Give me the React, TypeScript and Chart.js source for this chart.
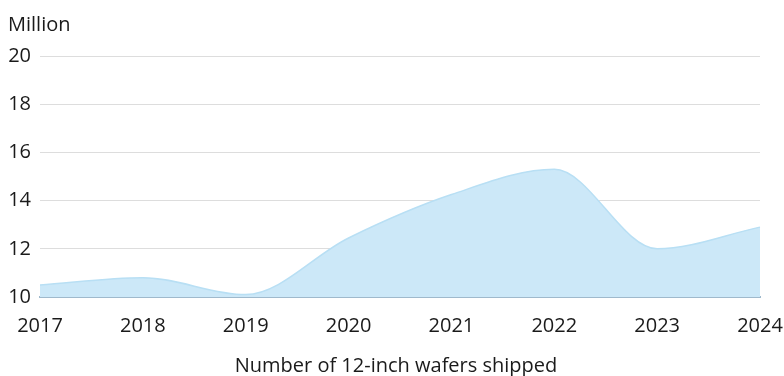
import React, { useEffect, useRef } from "react";
import { Chart, registerables } from "chart.js";

Chart.register(...registerables);

const years = ["2017", "2018", "2019", "2020", "2021", "2022", "2023", "2024"];
const wafers = [10.5, 10.8, 10.1, 12.45, 14.25, 15.3, 12.0, 12.9];
const yTicks = [10, 12, 14, 16, 18, 20];

const FONT = "'Open Sans', 'Noto Sans', sans-serif";
const TEXT = "#1a1a1a";

export default function App() {
  const canvasRef = useRef<HTMLCanvasElement | null>(null);

  useEffect(() => {
    document.body.style.margin = "0";
    const ctx = canvasRef.current;
    if (!ctx) return;
    const chart = new Chart(ctx, {
      type: "line",
      data: {
        labels: years,
        datasets: [
          {
            data: wafers,
            borderColor: "#b8dff4",
            borderWidth: 1.5,
            backgroundColor: "#cce8f8",
            fill: "start",
            cubicInterpolationMode: "monotone",
            pointRadius: 0,
          },
        ],
      },
      options: {
        animation: false,
        responsive: false,
        maintainAspectRatio: false,
        layout: { padding: { left: 8, right: 0, top: 13, bottom: -2 } },
        plugins: {
          legend: { display: false },
          tooltip: { enabled: false },
          title: {
            display: true,
            text: "Million",
            align: "start",
            color: TEXT,
            font: { family: FONT, size: 20, weight: "normal" },
            padding: { top: 0, bottom: 19 },
          },
          // caption under the year axis, centred on the whole canvas
          subtitle: {
            display: true,
            position: "bottom",
            text: "Number of 12-inch wafers shipped",
            color: TEXT,
            font: { family: FONT, size: 20, weight: "normal" },
            padding: { top: -1, bottom: 0 },
          },
        },
        scales: {
          x: {
            offset: false,
            grid: { display: false, drawTicks: false },
            border: { display: true, color: "#9fb9cc", width: 2 },
            ticks: {
              color: TEXT,
              font: { family: FONT, size: 20 },
              padding: 17,
              maxRotation: 0,
            },
            afterFit: (axis: any) => {
              // last label sits flush with the canvas edge
              axis.paddingLeft = 0;
              axis.paddingRight = 24;
            },
          },
          y: {
            min: 10,
            max: 20,
            afterBuildTicks: (axis: any) => {
              axis.ticks = yTicks.map((v) => ({ value: v }));
            },
            afterFit: (axis: any) => {
              axis.width = 32;
            },
            grid: { color: "#dddddd", drawTicks: false, lineWidth: 1 },
            border: { display: false },
            ticks: {
              color: TEXT,
              font: { family: FONT, size: 20 },
              padding: 9,
            },
          },
        },
      },
    });
    return () => chart.destroy();
  }, []);

  return (
    <div style={{ position: "relative", width: 784, height: 376 }}>
      <canvas ref={canvasRef} width={784} height={376} />
    </div>
  );
}
